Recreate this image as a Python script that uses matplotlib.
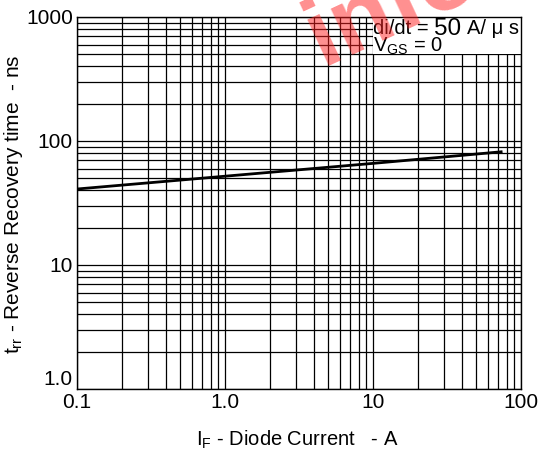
import numpy as np
import matplotlib
matplotlib.use('Agg')
import matplotlib.pyplot as plt
from matplotlib.patches import Rectangle
from matplotlib.ticker import FixedLocator, FixedFormatter, NullFormatter, LogLocator

plt.rcParams['font.family'] = ['Liberation Sans', 'DejaVu Sans']
plt.rcParams['mathtext.fontset'] = 'custom'
plt.rcParams['mathtext.rm'] = 'Liberation Sans'

# curve
current_a = [0.1, 1.0, 10.0, 75.0]
trr_ns = [41.0, 52.0, 66.0, 82.0]

x_ticks = [0.1, 1.0, 10.0, 100.0]
x_labels = ['0.1', '1.0', '10', '100']
y_ticks = [1.0, 10.0, 100.0, 1000.0]
y_labels = ['1.0', '10', '100', '1000']

W, H = 543, 459
fig = plt.figure(figsize=(W / 100, H / 100), dpi=100, facecolor='white')
ax = fig.add_axes([77 / W, 1 - 389 / H, 444 / W, 372 / H])

ax.set_xscale('log')
ax.set_yscale('log')
ax.set_xlim(0.1, 100)
ax.set_ylim(1, 1000)

ax.xaxis.set_major_locator(FixedLocator(x_ticks))
ax.xaxis.set_major_formatter(FixedFormatter(x_labels))
ax.yaxis.set_major_locator(FixedLocator(y_ticks))
ax.yaxis.set_major_formatter(FixedFormatter(y_labels))
ax.xaxis.set_minor_locator(LogLocator(base=10, subs=np.arange(2, 10)))
ax.yaxis.set_minor_locator(LogLocator(base=10, subs=np.arange(2, 10)))
ax.xaxis.set_minor_formatter(NullFormatter())
ax.yaxis.set_minor_formatter(NullFormatter())

ax.grid(which='both', color='black', lw=0.9, zorder=1)
ax.set_axisbelow(True)
ax.tick_params(which='both', length=0, labelsize=15, colors='black')
ax.tick_params(axis='x', pad=3)
ax.tick_params(axis='y', pad=3)
for s in ax.spines.values():
    s.set_linewidth(1.0)
    s.set_color('black')
    s.set_zorder(5)
# bottom y label sits a little above its grid line, clear of "0.1"
ax.yaxis.get_major_ticks()[0].label1.set_verticalalignment('bottom')

# white box behind the condition text
ax.add_patch(Rectangle((10, 500), 90, 500, facecolor='white', edgecolor='none', zorder=2))

ax.plot(current_a, trr_ns, color='black', lw=2.0, zorder=4, solid_capstyle='butt')


def px(x, y):
    return x / W, 1 - y / H


fig.text(*px(297, 440), r'$\mathregular{I_F}$ - Diode Current   - A',
         fontsize=14.5, ha='center', va='center')
fig.text(*px(14, 204), r'$\mathregular{t_{rr}}$ - Reverse Recovery time  - ns',
         fontsize=15, ha='center', va='center', rotation=90)

fig.text(*px(373, 34), 'di/dt =', fontsize=14.5, ha='left', va='baseline')
fig.text(*px(434, 35), '50', fontsize=17.5, ha='left', va='baseline')
fig.text(*px(467, 34), 'A/ μ s', fontsize=14.5, ha='left', va='baseline')
fig.text(*px(373, 52), r'V$\mathregular{_{GS}}$ = 0', fontsize=14.5, ha='left', va='baseline')

# red watermark bleeding in from the top
fig.text(*px(392, 6), 'info', fontsize=70, fontweight='bold', color='#ff2020',
         alpha=0.5, rotation=25, ha='center', va='center', zorder=10)

fig.savefig('out.png', dpi=100, facecolor='white')
